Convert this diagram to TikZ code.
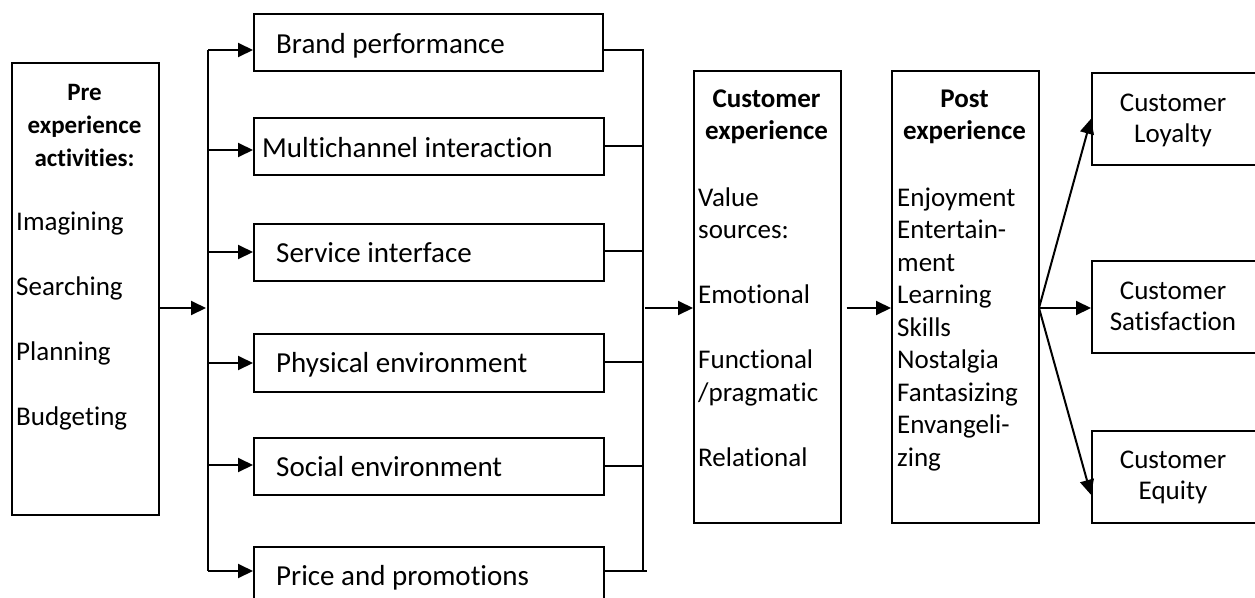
\documentclass[tikz,border=0pt]{standalone}
\usepackage{fontspec}
\setmainfont{Carlito}[Ligatures={NoCommon}]
\usetikzlibrary{arrows.meta}
\newcommand\mystrut{\rule{0pt}{22pt}}
\begin{document}
\begin{tikzpicture}[x=1pt,y={(0pt,-1pt)},
  box/.style={draw,line width=1.6pt,inner sep=0pt,anchor=north west},
  txt/.style={inner sep=0pt,font=\fontsize{29}{32.5}\selectfont},
  hdr/.style={inner sep=0pt,font=\fontsize{27}{32.5}\selectfont\bfseries,align=center,anchor=north},
  lst/.style={inner sep=0pt,font=\fontsize{27}{32.5}\selectfont,align=left,anchor=north west},
  arr/.style={line width=2pt,-{Triangle[length=15pt,width=14pt]}},
  lnk/.style={line width=1.4pt}]
\useasboundingbox (0,0) rectangle (1255,597);
% boxes
\node[box,minimum width=147pt,minimum height=452pt] (pre) at (11,62) {};
\node[box,minimum width=349pt,minimum height=57pt] (b1) at (253,13) {};
\node[box,minimum width=350pt,minimum height=57pt] (b2) at (253,117) {};
\node[box,minimum width=350pt,minimum height=57pt] (b3) at (253,223) {};
\node[box,minimum width=350pt,minimum height=58pt] (b4) at (253,333) {};
\node[box,minimum width=350pt,minimum height=57pt] (b5) at (253,437) {};
\node[box,minimum width=350pt,minimum height=60pt] (b6) at (253,546) {};
\node[box,minimum width=147pt,minimum height=452pt] (ce) at (693,70) {};
\node[box,minimum width=147pt,minimum height=452pt] (post) at (891,70) {};
\node[box,minimum width=170pt,minimum height=92pt] (loy) at (1091,72) {};
\node[box,minimum width=170pt,minimum height=92pt] (sat) at (1091,260) {};
\node[box,minimum width=170pt,minimum height=92pt] (eq) at (1091,430) {};
% texts
\node[hdr,font=\fontsize{25}{33}\selectfont\bfseries] (preh) at (84.5,78) {\mystrut Pre\\experience\\activities:};
\node[lst] (prel) at (16,208) {\mystrut Imagining\\[32.5pt]Searching\\[32.5pt]Planning\\[32.5pt]Budgeting};
\node[txt,anchor=base west] (t1) at (276,53) {Brand performance};
\node[txt,anchor=base west] (t2) at (262,157) {Multichannel interaction};
\node[txt,anchor=base west] (t3) at (276,262) {Service interface};
\node[txt,anchor=base west] (t4) at (276,372) {Physical environment};
\node[txt,anchor=base west] (t5) at (276,476) {Social environment};
\node[txt,anchor=base west] (t6) at (276,585) {Price and promotions};
\node[hdr] (ceh) at (766.5,85) {\mystrut Customer\\experience};
\node[lst] (cel) at (698,184) {\mystrut Value\\sources:\\[32.5pt]Emotional\\[32.5pt]Functional\\/pragmatic\\[32.5pt]Relational};
\node[hdr] (posth) at (964.5,85) {\mystrut Post\\experience};
\node[lst] (postl) at (897,184) {\mystrut Enjoyment\\Entertain-\\ment\\Learning\\Skills\\Nostalgia\\Fantasizing\\Envangeli-\\zing};
\node[hdr,font=\fontsize{27}{31}\selectfont] (loyt) at (1173,89) {\mystrut Customer\\Loyalty};
\node[hdr,font=\fontsize{27}{31}\selectfont] (satt) at (1173,277) {\mystrut Customer\\Satisfaction};
\node[hdr,font=\fontsize{27}{31}\selectfont] (eqt) at (1173,446) {\mystrut Customer\\Equity};
% left branch
\coordinate (l1) at (208,50);
\coordinate (l2) at (208,150);
\coordinate (l3) at (208,252);
\coordinate (l4) at (208,363);
\coordinate (l5) at (208,465);
\coordinate (l6) at (208,571);
\coordinate (lm) at (206,308);
\draw[line width=2pt] (l1) -- (l6);
\draw[arr] (l1) -- (l1 -| b1.west);
\draw[arr] (l2) -- (l2 -| b2.west);
\draw[arr] (l3) -- (l3 -| b3.west);
\draw[arr] (l4) -- (l4 -| b4.west);
\draw[arr] (l5) -- (l5 -| b5.west);
\draw[arr] (l6) -- (l6 -| b6.west);
\draw[arr] (pre.east |- lm) -- (lm);
% right collector
\coordinate (r1) at (643,50);
\coordinate (r2) at (643,146);
\coordinate (r3) at (643,251);
\coordinate (r4) at (643,362);
\coordinate (r5) at (643,466);
\coordinate (r6) at (643,571);
\coordinate (r6e) at (647,571);
\coordinate (rm) at (645,308);
\draw[lnk] (r1 -| b1.east) -- (r1) -- (r6);
\draw[lnk] (r2 -| b2.east) -- (r2);
\draw[lnk] (r3 -| b3.east) -- (r3);
\draw[lnk] (r4 -| b4.east) -- (r4);
\draw[lnk] (r5 -| b5.east) -- (r5);
\draw[lnk] (r6 -| b6.east) -- (r6e);
\draw[arr] (rm) -- (rm -| ce.west);
\draw[arr,shorten <=5pt] (ce.east |- rm) -- (rm -| post.west);
% fan
\coordinate (fan) at (1039,308);
\draw[arr] (fan) -- (loy.west);
\draw[arr] (fan) -- (fan -| sat.west);
\draw[arr] (fan) -- ([yshift=-18pt]eq.west);
\end{tikzpicture}
\end{document}
